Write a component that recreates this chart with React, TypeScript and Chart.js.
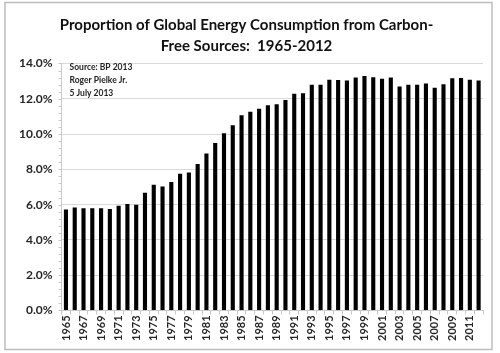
import React, { useEffect, useRef } from "react";
import { Chart, registerables } from "chart.js";

Chart.register(...registerables);

const years: string[] = [];
for (let y = 1965; y <= 2012; y++) years.push(String(y));

const shares: number[] = [
  5.72, 5.84, 5.79, 5.79, 5.79, 5.75, 5.94, 6.03, 6.0, 6.67,
  7.13, 7.03, 7.28, 7.75, 7.82, 8.3, 8.9, 9.5, 10.05, 10.5,
  11.07, 11.27, 11.44, 11.63, 11.69, 11.93, 12.29, 12.31, 12.8, 12.8,
  13.08, 13.06, 13.03, 13.2, 13.29, 13.22, 13.14, 13.2, 12.69, 12.8,
  12.8, 12.86, 12.63, 12.82, 13.16, 13.18, 13.08, 13.03,
];

const titleLines = ["Proportion of Global Energy Consumption from Carbon-", "Free Sources:  1965-2012"];
const noteLines = ["Source: BP 2013", "Roger Pielke Jr.", "5 July 2013"];

const FONT = "Lato, 'Open Sans', sans-serif";

export default function App() {
  const ref = useRef<HTMLCanvasElement | null>(null);
  useEffect(() => {
    document.body.style.margin = "0";
    const frame = {
      id: "frame",
      beforeDraw(chart: any) {
        const ctx = chart.ctx;
        ctx.save();
        ctx.fillStyle = "#ffffff";
        ctx.fillRect(0, 0, chart.width, chart.height);
        ctx.strokeStyle = "#bdbdbd";
        ctx.lineWidth = 1.5;
        ctx.strokeRect(5, 2.5, 487, 347);
        ctx.restore();
      },
      afterDraw(chart: any) {
        const ctx = chart.ctx;
        const a = chart.chartArea;
        ctx.save();
        ctx.fillStyle = "#222222";
        ctx.font = "bold 8.5px " + FONT;
        ctx.textBaseline = "middle";
        noteLines.forEach((t, i) => ctx.fillText(t, a.left + 8, a.top + 4 + i * 13));
        const y = chart.scales.y;
        ctx.strokeStyle = "#c8c8c8";
        ctx.lineWidth = 1;
        for (let v = 0; v <= 14.0001; v += 0.4) {
          const py = Math.round(y.getPixelForValue(v)) + 0.5;
          ctx.beginPath();
          ctx.moveTo(a.left - 3, py);
          ctx.lineTo(a.left, py);
          ctx.stroke();
        }
        ctx.restore();
      },
    };
    const chart = new Chart(ref.current!, {
      type: "bar",
      data: {
        labels: years,
        datasets: [
          {
            data: shares,
            backgroundColor: "#000000",
            borderWidth: 0,
            barPercentage: 0.47,
            categoryPercentage: 1,
          },
        ],
      },
      options: {
        animation: false,
        responsive: false,
        layout: { padding: { left: 10, right: 17, top: 0, bottom: 11 } },
        plugins: {
          legend: { display: false },
          tooltip: { enabled: false },
          title: {
            display: true,
            text: titleLines,
            color: "#111111",
            font: { family: FONT, size: 15, weight: "bold", lineHeight: 1.45 },
            padding: { top: 14, bottom: 6 },
          },
        },
        scales: {
          x: {
            offset: true,
            grid: { display: true, drawOnChartArea: false, drawTicks: true, tickLength: 4, color: "#c8c8c8", offset: true },
            border: { color: "#c8c8c8" },
            ticks: {
              autoSkip: false,
              minRotation: 90,
              maxRotation: 90,
              color: "#262626",
              font: { family: FONT, size: 11, weight: "bold" },
              padding: 1,
              callback: (_v: any, i: number) => (i % 2 === 0 ? years[i] : ""),
            },
          },
          y: {
            min: 0,
            max: 14,
            grid: { color: "#d9d9d9", drawTicks: false, lineWidth: 1 },
            border: { color: "#c8c8c8" },
            ticks: {
              stepSize: 2,
              color: "#262626",
              font: { family: FONT, size: 12, weight: "bold" },
              padding: 9,
              callback: (v: any) => Number(v).toFixed(1) + "%",
            },
          },
        },
      },
      plugins: [frame],
    });
    return () => chart.destroy();
  }, []);
  return <canvas ref={ref} width={500} height={353} style={{ display: "block" }} />;
}
